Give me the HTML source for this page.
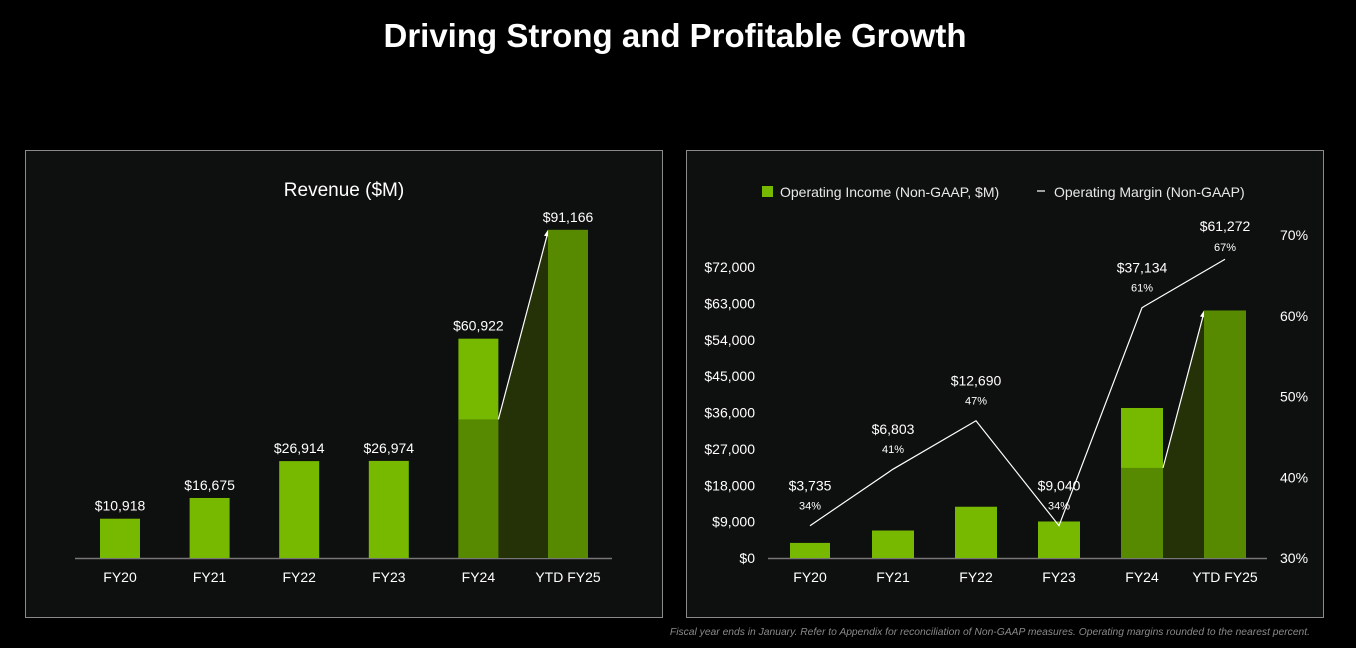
<!DOCTYPE html>
<html><head><meta charset="utf-8">
<style>
html,body{margin:0;padding:0;background:#000;width:1356px;height:648px;overflow:hidden;font-family:"Liberation Sans",sans-serif;}
svg text{font-family:"Liberation Sans",sans-serif;}
</style></head>
<body>
<svg id="s" width="1356" height="648">
<text x="675" y="47" text-anchor="middle" fill="#fff" font-size="33" font-weight="bold">Driving Strong and Profitable Growth</text>
<rect x="25.5" y="150.5" width="637" height="467" fill="#0e0f0f" stroke="#8a8a8a"/>
<rect x="686.5" y="150.5" width="637" height="467" fill="#0e0f0f" stroke="#8a8a8a"/>
<text x="344" y="196" text-anchor="middle" fill="#fff" font-size="19">Revenue ($M)</text>
<rect x="762" y="186" width="11" height="11" fill="#76b900"/>
<text x="780" y="197" fill="#e8e8e8" font-size="14">Operating Income (Non-GAAP, $M)</text>
<line x1="1037" y1="191" x2="1045" y2="191" stroke="#fff" stroke-width="1.2"/>
<text x="1054" y="197" fill="#e8e8e8" font-size="14">Operating Margin (Non-GAAP)</text>
<text x="1310" y="635" text-anchor="end" fill="#8a8a8a" font-size="10.3" font-style="italic">Fiscal year ends in January. Refer to Appendix for reconciliation of Non-GAAP measures. Operating margins rounded to the nearest percent.</text>
<g id="g1"></g><g id="g2"></g>
</svg>
<script>
const categories=["FY20","FY21","FY22","FY23","FY24","YTD FY25"];
const revenue=[10918,16675,26914,26974,60922,91166];
const revenueComparable=[null,null,null,null,38500,null];
const revLabels=["$10,918","$16,675","$26,914","$26,974","$60,922","$91,166"];
const opIncome=[3735,6803,12690,9040,37134,61272];
const opComparable=[null,null,null,null,22300,null];
const opLabels=["$3,735","$6,803","$12,690","$9,040","$37,134","$61,272"];
const margin=[34,41,47,34,61,67];
const marginLabels=["34%","41%","47%","34%","61%","67%"];
const leftTicks=[0,9000,18000,27000,36000,45000,54000,63000,72000];
const rightTicks=[30,40,50,60,70];

const NS="http://www.w3.org/2000/svg";
function el(p,t,a){const e=document.createElementNS(NS,t);for(const k in a)e.setAttribute(k,a[k]);p.appendChild(e);return e;}
const BR="#76b900",DK="#578a00",SH="#253208";

// Chart 1
const g1=document.getElementById('g1');
const x1=i=>120+i*89.6, y1=v=>558-v*0.0036, bw1=40;
let ax=el(g1,'line',{x1:75,y1:558.5,x2:612,y2:558.5,stroke:'#777','stroke-width':1.5});


categories.forEach((c,i)=>{
  const last=i===categories.length-1;
  const r=el(g1,'rect',{x:x1(i)-bw1/2,y:y1(revenue[i]),width:bw1,height:558-y1(revenue[i]),fill:last?DK:BR});
  
  
  if(revenueComparable[i]!=null){
    const d=el(g1,'rect',{x:x1(i)-bw1/2,y:y1(revenueComparable[i]),width:bw1,height:558-y1(revenueComparable[i]),fill:DK});
    
    
    const n=i+1;
    const p=el(g1,'polygon',{points:`${x1(i)+bw1/2},${y1(revenueComparable[i])} ${x1(n)-bw1/2},${y1(revenue[n])} ${x1(n)-bw1/2},558 ${x1(i)+bw1/2},558`,fill:SH});
    
    
    const l=el(g1,'line',{x1:x1(i)+bw1/2,y1:y1(revenueComparable[i]),x2:x1(n)-bw1/2,y2:y1(revenue[n])+2,stroke:'#fff','stroke-width':1.2});
    
    
    const a=el(g1,'polygon',{points:`${x1(n)-bw1/2},${y1(revenue[n])} ${x1(n)-bw1/2-4},${y1(revenue[n])+6} ${x1(n)-bw1/2+2},${y1(revenue[n])+7}`,fill:'#fff'});
    
    
  }
  const t=el(g1,'text',{x:x1(i),y:y1(revenue[i])-8,'text-anchor':'middle',fill:'#fff','font-size':14});
  t.textContent=revLabels[i];
  
  
  const xl=el(g1,'text',{x:x1(i),y:582,'text-anchor':'middle',fill:'#fff','font-size':14});
  xl.textContent=c;
  
  
});

// Chart 2
const g2=document.getElementById('g2');
const x2=i=>810+i*83, y2=v=>558-v*0.00404, ym=m=>558-(m-30)*8.075, bw2=42;
ax=el(g2,'line',{x1:768,y1:558.5,x2:1267,y2:558.5,stroke:'#777','stroke-width':1.5});


leftTicks.forEach(v=>{
  const t=el(g2,'text',{x:755,y:y2(v)+5,'text-anchor':'end',fill:'#fff','font-size':14});
  t.textContent='$'+v.toLocaleString('en-US');
  
  
});
rightTicks.forEach(v=>{
  const t=el(g2,'text',{x:1280,y:ym(v)+5,fill:'#fff','font-size':14});
  t.textContent=v+'%';
  
  
});
categories.forEach((c,i)=>{
  const last=i===categories.length-1;
  const w=i===0?40:bw2;
  const r=el(g2,'rect',{x:x2(i)-w/2,y:y2(opIncome[i]),width:w,height:558-y2(opIncome[i]),fill:last?DK:BR});
  
  
  if(opComparable[i]!=null){
    const d=el(g2,'rect',{x:x2(i)-bw2/2,y:y2(opComparable[i]),width:bw2,height:558-y2(opComparable[i]),fill:DK});
    
    
    const n=i+1;
    const p=el(g2,'polygon',{points:`${x2(i)+bw2/2},${y2(opComparable[i])} ${x2(n)-bw2/2},${y2(opIncome[n])} ${x2(n)-bw2/2},558 ${x2(i)+bw2/2},558`,fill:SH});
    
    
    const l=el(g2,'line',{x1:x2(i)+bw2/2,y1:y2(opComparable[i]),x2:x2(n)-bw2/2,y2:y2(opIncome[n])+2,stroke:'#fff','stroke-width':1.2});
    
    
    const a=el(g2,'polygon',{points:`${x2(n)-bw2/2},${y2(opIncome[n])} ${x2(n)-bw2/2-4},${y2(opIncome[n])+6} ${x2(n)-bw2/2+2},${y2(opIncome[n])+7}`,fill:'#fff'});
    
    
  }
  const xl=el(g2,'text',{x:x2(i),y:582,'text-anchor':'middle',fill:'#fff','font-size':14});
  xl.textContent=c;
  
  
});
const pts=margin.map((m,i)=>x2(i)+','+ym(m)).join(' ');
const pl=el(g2,'polyline',{points:pts,fill:'none',stroke:'#fff','stroke-width':1.2});


margin.forEach((m,i)=>{
  const last=i===margin.length-1;
  const t=el(g2,'text',{x:x2(i),y:ym(m)-(last?8:16),'text-anchor':'middle',fill:'#fff','font-size':11});
  t.textContent=marginLabels[i];
  
  
  const v=el(g2,'text',{x:x2(i),y:ym(m)-(last?28:35),'text-anchor':'middle',fill:'#fff','font-size':14});
  v.textContent=opLabels[i];
  
  
});
</script>
</body></html>
